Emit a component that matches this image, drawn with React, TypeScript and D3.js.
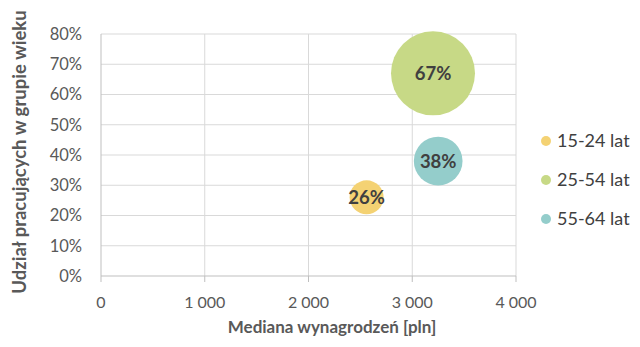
import React from "react";
import * as d3 from "d3";

const seriesNames = ["15-24 lat", "25-54 lat", "55-64 lat"];
const medianWage = [2560, 3200, 3250];
const shareEmployed = [0.26, 0.67, 0.38];
const bubbleSize = [1000, 6100, 2050];
const colors = ["#f4d273", "#c7d986", "#94cdcb"];
const xTicks = [0, 1000, 2000, 3000, 4000];
const yTicks = [0, 0.1, 0.2, 0.3, 0.4, 0.5, 0.6, 0.7, 0.8];

const W = 640;
const H = 347;
const font = "Lato, 'Open Sans', sans-serif";

export default function App() {
  const x = d3.scaleLinear().domain([0, 4000]).range([101, 516]);
  const y = d3.scaleLinear().domain([0, 0.8]).range([276, 34]);
  const r = d3.scaleSqrt().domain([0, d3.max(bubbleSize) as number]).range([0, 42]);
  const fmtX = (v: number) => (v === 0 ? "0" : d3.format(",")(v).replace(/,/g, "\u00a0"));
  const fmtY = d3.format(".0%");
  const order = d3.range(seriesNames.length).sort((a, b) => bubbleSize[b] - bubbleSize[a]);

  return (
    <svg width={W} height={H} style={{ position: "absolute", left: 0, top: 0, background: "#fff" }} fontFamily={font}>
      {yTicks.slice(1).map((t) => (
        <line key={"gy" + t} x1={x(0)} x2={x(4000)} y1={y(t)} y2={y(t)} stroke="#d9d9d9" strokeWidth={1} />
      ))}
      {xTicks.slice(1).map((t) => (
        <line key={"gx" + t} x1={x(t)} x2={x(t)} y1={y(0)} y2={y(0.8)} stroke="#d9d9d9" strokeWidth={1} />
      ))}
      <line x1={x(0)} x2={x(0)} y1={y(0)} y2={y(0.8)} stroke="#bfbfbf" />
      <line x1={x(0)} x2={x(4000)} y1={y(0)} y2={y(0)} stroke="#bfbfbf" />
      {xTicks.map((t) => (
        <line key={"tx" + t} x1={x(t)} x2={x(t)} y1={y(0)} y2={y(0) + 6} stroke="#bfbfbf" />
      ))}
      {yTicks.map((t) => (
        <text key={"ly" + t} x={82} y={y(t)} dy="0.36em" textAnchor="end" fontSize={16.5} fill="#595959">
          {fmtY(t)}
        </text>
      ))}
      {xTicks.map((t) => (
        <text key={"lx" + t} x={x(t)} y={302} dy="0.36em" textAnchor="middle" fontSize={16} fill="#595959">
          {fmtX(t)}
        </text>
      ))}
      <text x={332} y={327} dy="0.36em" textAnchor="middle" fontSize={17} fontWeight="bold" fill="#595959">
        Mediana wynagrodzeń [pln]
      </text>
      <text
        transform={`translate(19,152) rotate(-90)`}
        dy="0.36em"
        textAnchor="middle"
        fontSize={18.5}
        fontWeight="bold"
        fill="#595959"
      >
        Udział pracujących w grupie wieku
      </text>
      {order.map((i) => (
        <circle key={"b" + i} cx={x(medianWage[i])} cy={y(shareEmployed[i])} r={r(bubbleSize[i])} fill={colors[i]} />
      ))}
      {order.map((i) => (
        <text
          key={"bl" + i}
          x={x(medianWage[i])}
          y={y(shareEmployed[i])}
          dy="0.36em"
          textAnchor="middle"
          fontSize={18.5}
          fontWeight="bold"
          fill="#404040"
        >
          {fmtY(shareEmployed[i])}
        </text>
      ))}
      {seriesNames.map((s, i) => (
        <g key={"lg" + i} transform={`translate(546,${141 + i * 39})`}>
          <circle cx={0} cy={0} r={5} fill={colors[i]} />
          <text x={11} y={0} dy="0.36em" fontSize={18} fill="#404040">
            {s}
          </text>
        </g>
      ))}
    </svg>
  );
}
